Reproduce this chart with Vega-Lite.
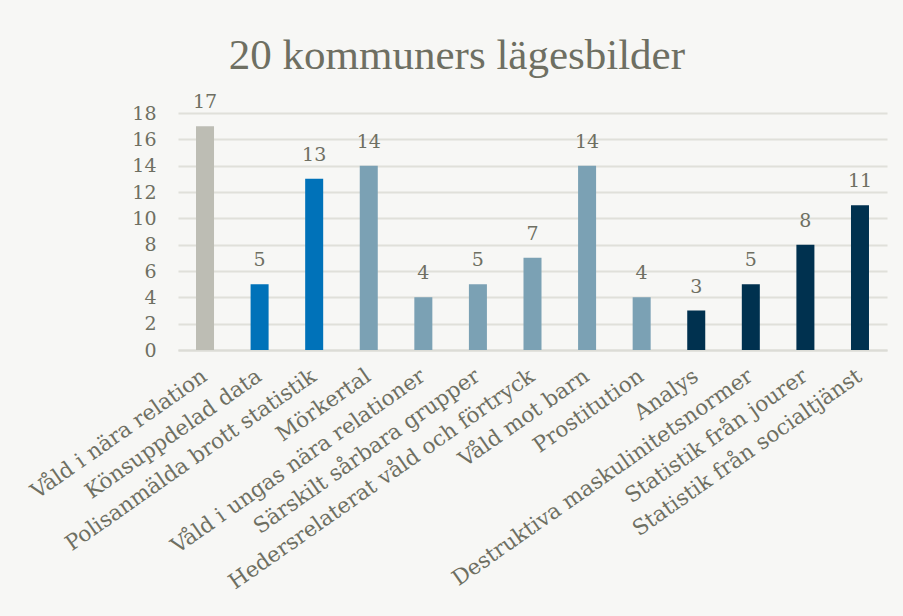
{
  "$schema": "https://vega.github.io/schema/vega-lite/v6.json",
  "width": 709,
  "height": 237,
  "autosize": {"type": "none"},
  "padding": {"left": 178, "top": 113, "right": 16, "bottom": 266},
  "background": "#f7f7f5",
  "title": {
    "text": "20 kommuners lägesbilder",
    "font": "Liberation Serif",
    "fontSize": 43,
    "fontWeight": "normal",
    "color": "#6e6f62",
    "anchor": "middle",
    "frame": "bounds",
    "offset": 15
  },
  "data": {
    "values": [
      {"kategori": "Våld i nära relation", "antal": 17, "grupp": "a"},
      {"kategori": "Könsuppdelad data", "antal": 5, "grupp": "b"},
      {"kategori": "Polisanmälda brott statistik", "antal": 13, "grupp": "b"},
      {"kategori": "Mörkertal", "antal": 14, "grupp": "c"},
      {"kategori": "Våld i ungas nära relationer", "antal": 4, "grupp": "c"},
      {"kategori": "Särskilt sårbara grupper", "antal": 5, "grupp": "c"},
      {"kategori": "Hedersrelaterat våld och förtryck", "antal": 7, "grupp": "c"},
      {"kategori": "Våld mot barn", "antal": 14, "grupp": "c"},
      {"kategori": "Prostitution", "antal": 4, "grupp": "c"},
      {"kategori": "Analys", "antal": 3, "grupp": "d"},
      {"kategori": "Destruktiva maskulinitetsnormer", "antal": 5, "grupp": "d"},
      {"kategori": "Statistik från jourer", "antal": 8, "grupp": "d"},
      {"kategori": "Statistik från socialtjänst", "antal": 11, "grupp": "d"}
    ]
  },
  "encoding": {
    "x": {
      "field": "kategori",
      "type": "nominal",
      "sort": null,
      "title": null,
      "scale": {"paddingInner": 0.67, "paddingOuter": 0.33},
      "axis": {
        "labelAngle": -35,
        "labelAlign": "right",
        "labelBaseline": "middle",
        "labelFont": "DejaVu Serif",
        "labelFontSize": 21.5,
        "labelColor": "#6e6f62",
        "labelPadding": 24,
        "labelLimit": 600,
        "labelOverlap": false,
        "ticks": false,
        "domainColor": "#dcdcd6",
        "domainWidth": 2,
        "grid": false
      }
    },
    "y": {
      "field": "antal",
      "type": "quantitative",
      "title": null,
      "scale": {"domain": [0, 18]},
      "axis": {
        "values": [0, 2, 4, 6, 8, 10, 12, 14, 16, 18],
        "labelFont": "DejaVu Serif",
        "labelFontSize": 19,
        "labelColor": "#6e6f62",
        "labelPadding": 22,
        "ticks": false,
        "domain": false,
        "gridColor": "#e0e0da",
        "gridWidth": 2
      }
    }
  },
  "layer": [
    {
      "mark": {"type": "bar"},
      "encoding": {
        "color": {
          "field": "grupp",
          "type": "nominal",
          "scale": {"domain": ["a", "b", "c", "d"], "range": ["#bdbdb4", "#0072b9", "#7ba1b4", "#00314f"]},
          "legend": null
        }
      }
    },
    {
      "mark": {"type": "text", "dy": -18, "baseline": "alphabetic", "font": "DejaVu Serif", "fontSize": 19, "color": "#6e6f62"},
      "encoding": {"text": {"field": "antal", "type": "quantitative"}}
    }
  ],
  "config": {"view": {"stroke": null}}
}
